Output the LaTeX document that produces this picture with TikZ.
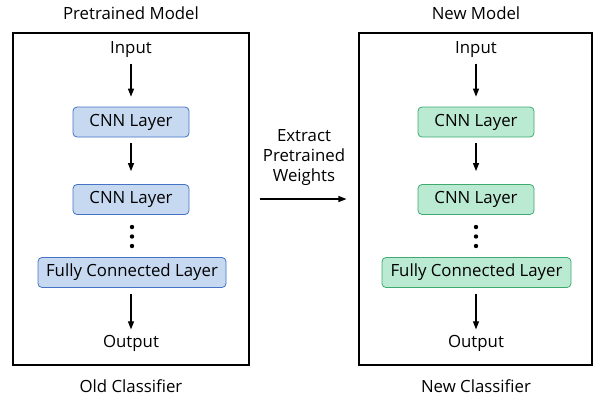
\documentclass[tikz,border=0pt]{standalone}
\usepackage{fontspec}
\setmainfont{Open Sans}
\usetikzlibrary{arrows.meta}

\definecolor{bleufond}{RGB}{198,217,241}
\definecolor{bleutrait}{RGB}{68,114,196}
\definecolor{vertfond}{RGB}{187,234,211}
\definecolor{verttrait}{RGB}{62,170,112}

\begin{document}
\begin{tikzpicture}[x=1pt,y=-1pt,font=\fontsize{16.8}{20}\selectfont,
  cadre/.style={draw,line width=1.1pt,minimum width=#1,minimum height=332pt,inner sep=0pt},
  couche/.style={rounded corners=4pt,line width=0.8pt,minimum height=30pt,inner sep=0pt},
  bleu/.style={couche,draw=bleutrait,fill=bleufond,minimum width=#1},
  vert/.style={couche,draw=verttrait,fill=vertfond,minimum width=#1},
  fleche/.style={line width=1.1pt,-{Triangle[length=8pt,width=6pt]}}]

\useasboundingbox (0,0) rectangle (604,400) ;

% modele pre-entraine

\node (titreG) at (131,13) {Pretrained Model} ;
\node[cadre=236pt] (cadreG) at (131,199) {} ;
\node (entreeG) at (131,50) {Input} ;
\node[bleu=116pt] (cnnG1) at (131,122) {CNN Layer} ;
\node[bleu=116pt] (cnnG2) at (131,199.5) {CNN Layer} ;
\node[bleu=188pt] (fcG) at (132,272.5) {Fully Connected Layer} ;
\node (sortieG) at (131,343) {Output} ;
\node (classeG) at (131,386) {Old Classifier} ;

\draw[fleche,shorten <=2pt,shorten >=10pt] (entreeG) -- (cnnG1) ;
\draw[fleche,shorten <=6pt,shorten >=13pt] (cnnG1) -- (cnnG2) ;
\draw[fleche,shorten <=6pt,shorten >=2pt] (fcG.south -| sortieG) -- (sortieG) ;
\foreach \y in {227,236.5,246} \fill (132,\y) circle (2.2pt) ;

% nouveau modele

\node (titreN) at (476,13) {New Model} ;
\node[cadre=233pt] (cadreN) at (475.5,199) {} ;
\node (entreeN) at (476,50) {Input} ;
\node[vert=116pt] (cnnN1) at (476,122) {CNN Layer} ;
\node[vert=116pt] (cnnN2) at (476,199.5) {CNN Layer} ;
\node[vert=189pt] (fcN) at (476.5,272.5) {Fully Connected Layer} ;
\node (sortieN) at (476,343) {Output} ;
\node (classeN) at (476,386) {New Classifier} ;

\draw[fleche,shorten <=2pt,shorten >=10pt] (entreeN) -- (cnnN1) ;
\draw[fleche,shorten <=6pt,shorten >=13pt] (cnnN1) -- (cnnN2) ;
\draw[fleche,shorten <=6pt,shorten >=2pt] (fcN.south -| sortieN) -- (sortieN) ;
\foreach \y in {227,236.5,246} \fill (476,\y) circle (2.2pt) ;

% transfert des poids

\node[align=center] (extraire) at (304,158) {Extract\\Pretrained\\Weights} ;
\draw[fleche,shorten <=10pt,shorten >=12pt] (cadreG) -- (cadreN) ;

\end{tikzpicture}
\end{document}
